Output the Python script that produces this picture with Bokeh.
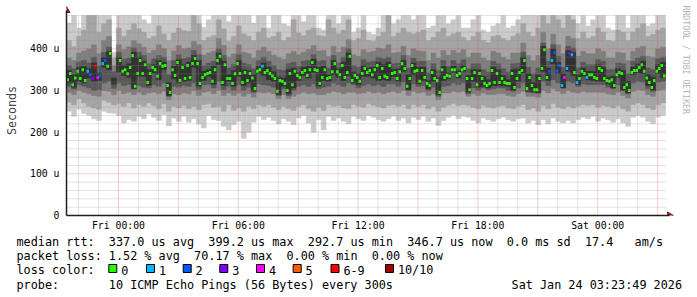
import math
from bokeh.plotting import figure
from bokeh.layouts import column
from bokeh.models import FixedTicker, Range1d, Title
from bokeh.core.properties import value
from bokeh.embed import file_html
from bokeh.resources import INLINE

nan = float("nan")

# ---------------- time frame (hours relative to Fri 00:00) ----------------
GRAPH_END_H = 27 + 23 / 60 + 49 / 3600      # Sat 03:23:49
GRAPH_SPAN_H = 30.0
SMOKE_STEP_H = 0.25
MEDIAN_STEP_H = 0.125
Y_MAX = 480                                   # microseconds

# ---------------- smoke: sorted ping rtts per 15-min column (us) ----------------
rtt_p1 = [250,238,255,245,240,232,228,250,246,245,240,222,230,226,238,232,244,236,228,242,
          215,234,226,238,224,232,220,210,240,230,228,214,205,218,226,185,200,224,238,230,
          236,228,220,232,226,218,234,240,222,200,230,205,238,228,234,226,220,238,232,228,
          240,236,230,226,232,238,228,234,222,236,230,238,226,234,216,228,236,240,232,238,
          236,228,222,234,230,226,232,236,230,226,232,234,222,228,218,230,220,234,226,222,
          228,222,230,236,232,238,226,234,230,224,232,222,214,236,240,236,226,220,236,240]
rtt_p2 = [272,265,280,270,262,258,255,276,272,265,268,262,270,258,266,262,270,264,256,268,
          250,262,258,264,256,262,254,266,268,260,262,250,266,252,258,250,262,256,266,262,
          266,260,254,262,256,252,262,266,256,250,260,252,266,262,264,258,256,266,262,260,
          268,264,262,258,264,266,262,266,256,266,262,266,256,262,250,260,264,268,264,266,
          264,260,256,264,260,258,262,264,258,256,262,266,254,258,250,264,256,268,260,256,
          262,258,262,266,264,266,260,264,262,258,264,256,250,266,270,266,258,254,266,270]
rtt_p3 = [295,290,300,296,292,288,286,300,298,290,300,292,296,290,295,290,294,296,292,298,
          278,292,290,294,292,300,288,296,298,292,300,288,294,288,294,286,292,284,296,294,
          296,292,280,290,280,286,292,296,292,294,290,290,294,298,296,292,296,296,292,294,
          298,294,296,292,296,298,294,300,288,298,294,296,288,292,278,294,294,298,296,298,
          286,292,288,294,290,290,292,292,288,286,292,298,286,286,284,300,294,304,298,292,
          300,296,294,298,296,296,296,296,292,290,296,288,282,298,302,300,290,286,300,302]
rtt_p4 = [310,303,314,310,306,300,302,318,322,305,318,312,315,304,312,308,306,314,310,318,
          286,310,308,312,310,318,302,314,315,306,322,302,310,300,314,300,308,296,316,314,
          312,308,288,304,288,300,310,314,310,316,304,308,310,318,314,310,318,314,306,312,
          316,312,314,310,316,316,310,320,300,316,310,312,300,308,286,310,312,318,314,318,
          292,306,300,306,302,304,306,306,300,298,306,318,296,296,294,322,312,326,318,306,
          322,318,310,316,314,314,314,314,308,304,314,300,292,318,322,320,304,298,320,322]
rtt_p5 = [318,308,322,318,330,322,324,356,350,315,345,336,332,304,334,334,312,342,326,350,
          288,328,318,322,324,356,310,324,334,315,362,312,322,310,334,312,318,298,340,336,
          326,322,290,310,292,306,324,336,330,344,310,324,322,338,332,324,336,318,314,334,
          334,330,324,326,324,334,322,346,302,338,316,324,304,322,290,324,328,344,330,346,
          296,322,308,310,306,312,312,312,310,300,322,342,298,296,294,346,324,364,340,306,
          346,336,314,334,326,324,322,322,316,306,332,300,294,338,342,340,312,300,340,330]
rtt_p6 = [348,338,356,358,352,366,342,380,394,330,380,360,364,392,380,370,350,362,372,368,
          320,358,374,362,368,384,372,346,350,358,390,370,338,348,372,350,348,338,358,366,
          356,345,332,330,350,354,344,356,358,375,356,358,338,372,352,368,390,344,340,360,
          354,356,368,362,368,350,352,372,338,366,356,356,324,350,332,358,342,358,348,360,
          336,350,350,334,326,356,350,336,326,350,352,380,340,320,338,406,354,400,368,340,
          396,392,338,354,346,346,362,356,332,334,352,348,322,356,364,370,338,332,362,368]
rtt_p7 = [360,352,368,372,366,380,360,392,404,345,392,375,378,402,392,384,364,376,384,380,
          338,372,386,376,380,396,386,360,366,370,400,384,354,362,386,366,362,352,372,380,
          370,360,350,348,364,368,358,370,372,386,370,372,354,384,366,380,400,360,356,374,
          368,370,380,376,380,364,366,384,354,378,370,370,342,364,348,372,358,372,364,374,
          352,364,364,350,344,370,364,352,344,364,366,392,356,340,354,414,370,410,382,356,
          406,402,354,368,362,362,374,370,350,350,366,364,340,370,378,382,354,350,376,380]
rtt_p8 = [378,372,390,395,400,410,388,420,430,360,410,398,405,420,412,404,390,396,410,400,
          372,395,408,400,402,418,410,385,390,394,425,408,380,388,410,392,388,378,396,404,
          394,385,380,375,388,394,386,392,398,408,395,396,382,406,392,404,422,386,382,398,
          392,394,402,400,410,390,392,406,384,400,395,394,372,390,378,396,385,396,390,398,
          380,390,390,378,372,394,390,380,374,390,390,414,384,372,384,440,400,435,410,388,
          430,425,382,394,388,388,400,394,378,378,392,390,372,394,402,406,382,380,400,404]
rtt_p9 = [420,405,430,445,495,495,440,460,470,378,450,430,445,460,448,440,425,430,455,436,
          420,438,450,444,442,495,460,420,428,432,470,448,418,430,455,436,430,420,440,450,
          426,430,440,420,428,470,438,432,445,450,432,430,470,450,436,445,470,420,425,445,
          420,418,430,440,495,430,438,450,440,436,440,445,420,428,440,450,430,436,440,428,
          420,430,440,420,415,430,432,425,420,430,436,460,440,430,450,495,460,495,470,450,
          495,470,425,440,425,430,450,440,420,418,445,440,420,440,450,460,430,435,445,450]
rtt_p10 = [462,495,450,495,495,495,495,495,495,392,495,495,495,495,495,470,460,495,495,480,
           495,495,495,495,495,495,495,452,470,495,495,495,465,495,495,495,480,462,495,495,
           450,495,495,460,455,495,495,465,495,495,450,445,495,495,460,495,495,440,450,495,
           440,435,450,495,495,460,470,495,495,470,495,495,450,455,495,495,460,470,495,450,
           450,470,495,445,440,455,460,495,450,455,470,495,495,495,495,495,495,495,495,495,
           495,495,460,495,455,470,495,495,450,445,495,495,450,495,495,495,455,460,495,495]

# ---------------- median rtt per 7.5-min step (us) and lost pings (of 10) ----------------
median_rtt = [326,341,314,330,346,329,350,324,346,338,329,358,331,334,365,372,358,389,nan,nan,
              nan,372,346,350,340,355,384,310,341,372,341,362,319,341,355,350,334,365,358,360,
              312,295,350,336,367,324,355,329,360,331,365,377,365,317,331,338,341,343,322,350,
              372,382,319,362,329,329,317,340,365,341,319,343,324,341,330,305,346,350,358,343,
              348,341,335,329,298,324,322,317,300,341,314,346,336,331,343,348,336,350,367,350,
              348,317,331,350,329,331,345,365,345,338,360,331,343,382,324,336,331,322,341,353,
              343,348,338,350,360,331,353,334,331,360,341,343,329,345,365,353,310,329,360,346,
              348,322,348,331,317,312,343,329,324,295,350,331,336,334,350,350,336,341,350,353,
              329,302,329,343,314,341,329,317,312,317,348,319,341,319,329,319,317,317,341,307,
              329,343,348,372,305,331,312,302,302,329,353,398,331,346,372,391,346,360,312,331,
              353,389,386,343,319,329,346,341,331,338,338,331,329,353,348,329,324,322,326,312,
              338,343,341,307,314,300,343,348,348,355,362,346,330,319,307,324,346,353,360,335]
lost_pings = [0,0,0,0,0,0,0,0,1,2,3,6,4,2,1,2,0,0,0,0,
              0,0,0,0,0,0,0,0,0,0,0,0,0,0,0,0,0,0,0,0,
              0,0,0,0,0,0,0,0,0,0,0,0,0,0,0,0,0,0,0,0,
              0,0,0,0,0,0,0,0,0,0,0,0,0,0,0,0,0,0,1,0,
              0,0,0,0,0,0,0,0,0,0,0,0,0,0,0,0,0,0,0,0,
              0,0,0,0,0,0,0,0,0,0,0,0,0,0,0,0,0,0,0,0,
              0,0,0,0,0,0,0,0,0,0,0,0,0,0,0,0,0,0,0,0,
              0,0,0,0,0,0,0,0,0,0,0,0,0,0,0,0,0,0,0,0,
              0,0,0,0,0,0,0,0,0,0,0,0,0,0,0,0,0,0,0,0,
              0,0,0,0,0,0,0,0,0,0,0,0,0,2,1,2,2,2,1,4,
              1,3,1,0,1,0,0,0,1,0,0,0,0,0,0,0,0,0,0,0,
              0,0,0,0,0,0,0,0,0,0,0,0,0,0,0,0,0,0,0,0]

# ---------------- ticks, legend ----------------
xtick_pos = [0, 6, 12, 18, 24]
xtick_labels = ["Fri 00:00", "Fri 06:00", "Fri 12:00", "Fri 18:00", "Sat 00:00"]
ytick_pos = [0, 100, 200, 300, 400]
ytick_labels = ["0", "100 u", "200 u", "300 u", "400 u"]
loss_bin_labels = ["0", "1", "2", "3", "4", "5", "6-9", "10/10"]
loss_bin_colors = ["#26ff00", "#00b8ff", "#0059ff", "#7e00ff", "#ff00ff", "#ff5e00", "#ff0000", "#a10000"]
smoke_colors = ["#cacaca", "#a4a4a4", "#7e7e7e", "#585858", "#323232"]

legend_lines = [
    "median rtt:  337.0 us avg  399.2 us max  292.7 us min  346.7 us now  0.0 ms sd  17.4   am/s",
    "packet loss: 1.52 % avg  70.17 % max  0.00 % min  0.00 % now",
    "loss color:",
    "probe:       10 ICMP Echo Pings (56 Bytes) every 300s",
]
timestamp_text = "Sat Jan 24 03:23:49 2026"
y_title = "Seconds"
watermark = "RRDTOOL / TOBI OETIKER"

# ---------------- styling constants ----------------
MONO = "DejaVu Sans Mono"
FONT_PX = 11.8
CHAR_W = 0.6021 * FONT_PX
AXIS_COLOR = "#1f1f1f"
ARROW_COLOR = "#7f1f1f"
DATA_W, DATA_H = 600, 200        # pixels of the graph area
EXTRA = 10                       # room for the axis arrows
B_LEFT, B_RIGHT, B_TOP, B_BOTTOM = 66, 21, 5, 18
MAIN_W = 697
MAIN_H = B_TOP + DATA_H + EXTRA + B_BOTTOM
LEG_H = 297 - MAIN_H

t_start = GRAPH_END_H - GRAPH_SPAN_H
px_x = GRAPH_SPAN_H / DATA_W
px_y = Y_MAX / DATA_H

p = figure(width=MAIN_W, height=MAIN_H,
           x_range=Range1d(t_start, GRAPH_END_H + EXTRA * px_x),
           y_range=Range1d(0, Y_MAX + EXTRA * px_y),
           output_backend="svg", toolbar_location=None,
           min_border_left=B_LEFT, min_border_right=B_RIGHT,
           min_border_top=B_TOP, min_border_bottom=B_BOTTOM)
p.background_fill_color = "white"
p.border_fill_color = "white"
p.outline_line_color = None
try:
    p.frame_align = False
except Exception:
    pass

# smoke bands (values above the top are clipped like rrdtool does)
smoke_left = [t_start + SMOKE_STEP_H * k for k in range(len(rtt_p1))]
smoke_right = [x + SMOKE_STEP_H for x in smoke_left]
pings = [rtt_p1, rtt_p2, rtt_p3, rtt_p4, rtt_p5, rtt_p6, rtt_p7, rtt_p8, rtt_p9, rtt_p10]
for b in range(5):
    c = smoke_colors[b]
    p.quad(left=smoke_left, right=smoke_right,
           bottom=[min(v, Y_MAX) for v in pings[b]],
           top=[min(v, Y_MAX) for v in pings[9 - b]],
           fill_color=c, line_color=c, line_width=0.5)

# median coloured by loss
def loss_bin(n):
    if n <= 5:
        return n
    if n < 10:
        return 6
    return 7

mx0, mx1, my, mc = [], [], [], []
for j, (m, l) in enumerate(zip(median_rtt, lost_pings)):
    if m != m:
        continue
    x0 = t_start + MEDIAN_STEP_H * j
    mx0.append(x0)
    mx1.append(x0 + MEDIAN_STEP_H)
    my.append(m)
    mc.append(loss_bin_colors[loss_bin(l)])
p.segment(x0=mx0, y0=my, x1=mx1, y1=my, line_color=mc, line_width=3)

# rrdtool-style dotted grid, drawn over the graph, limited to the graph area
p.grid.visible = False
vminor = [h for h in range(-2, 28) if h % 3 and t_start < h < GRAPH_END_H]
vmajor = [h for h in range(-3, 28, 3) if t_start < h < GRAPH_END_H]
hminor = [v for v in range(20, Y_MAX + 1, 20) if v % 100]
hmajor = [v for v in range(100, Y_MAX + 1, 100)]
p.segment(x0=vminor, y0=[0] * len(vminor), x1=vminor, y1=[Y_MAX] * len(vminor),
          line_color="#8f8f8f", line_alpha=0.5, line_width=1, line_dash="1 1")
p.segment(x0=[t_start] * len(hminor), y0=hminor, x1=[GRAPH_END_H] * len(hminor), y1=hminor,
          line_color="#8f8f8f", line_alpha=0.5, line_width=1, line_dash="1 1")
p.segment(x0=vmajor, y0=[0] * len(vmajor), x1=vmajor, y1=[Y_MAX] * len(vmajor),
          line_color="#de4f4f", line_alpha=0.55, line_width=1, line_dash="1 1")
p.segment(x0=[t_start] * len(hmajor), y0=hmajor, x1=[GRAPH_END_H] * len(hmajor), y1=hmajor,
          line_color="#de4f4f", line_alpha=0.55, line_width=1, line_dash="1 1")

# axes
p.xaxis.ticker = FixedTicker(ticks=xtick_pos)
p.xaxis.major_label_overrides = {k: v for k, v in zip(xtick_pos, xtick_labels)}
p.yaxis.ticker = FixedTicker(ticks=ytick_pos)
p.yaxis.major_label_overrides = {k: v for k, v in zip(ytick_pos, ytick_labels)}
p.xaxis.bounds = (t_start, GRAPH_END_H + 4 * px_x)
p.yaxis.bounds = (0, Y_MAX + 5 * px_y)
for ax in (p.xaxis, p.yaxis):
    ax.axis_line_color = AXIS_COLOR
    ax.axis_line_width = 1.5
    ax.major_tick_line_color = None
    ax.minor_tick_line_color = None
    ax.major_tick_out = 0
    ax.major_tick_in = 0
    ax.minor_tick_out = 0
    ax.minor_tick_in = 0
    ax.major_label_text_font = MONO
    ax.major_label_text_font_size = "9.8px"
    ax.major_label_text_color = "black"
p.xaxis.major_label_standoff = 4
p.yaxis.major_label_standoff = 7
p.yaxis.axis_label = y_title
p.yaxis.axis_label_text_font = MONO
p.yaxis.axis_label_text_font_size = "11.7px"
p.yaxis.axis_label_text_font_style = "normal"
p.yaxis.axis_label_standoff = 8

# axis arrow heads
p.scatter(x=[t_start], y=[Y_MAX + 5 * px_y], marker="triangle", size=7,
          fill_color=ARROW_COLOR, line_color=ARROW_COLOR)
p.scatter(x=[GRAPH_END_H + 4 * px_x], y=[0], marker="triangle", size=7, angle=-math.pi / 2,
          fill_color=ARROW_COLOR, line_color=ARROW_COLOR)

# watermark on the right edge
p.add_layout(Title(text=watermark, align="left", text_font=MONO, text_font_size="8.2px",
                   text_font_style="normal", text_color="#b4b4b4", standoff=10), "right")

# ---------------- legend panel ----------------
leg = figure(width=MAIN_W, height=LEG_H,
             x_range=Range1d(0, MAIN_W), y_range=Range1d(LEG_H, 0),
             output_backend="svg", toolbar_location=None,
             min_border_left=0, min_border_right=0, min_border_top=0, min_border_bottom=0)
leg.axis.visible = False
leg.grid.visible = False
leg.outline_line_color = None
leg.background_fill_color = "white"
leg.border_fill_color = "white"
try:
    leg.frame_align = False
except Exception:
    pass

row_y = [241 - MAIN_H, 255.7 - MAIN_H, 269.7 - MAIN_H, 284.3 - MAIN_H]
# split each monospace line on runs of spaces so SVG keeps the alignment
tx, ty, tt = [], [], []
for r, line in enumerate(legend_lines):
    i = 0
    while i < len(line):
        if line[i] == " ":
            i += 1
            continue
        jx = line.find("  ", i)
        if jx < 0:
            jx = len(line)
        tx.append(16 + i * CHAR_W)
        ty.append(row_y[r])
        tt.append(line[i:jx])
        i = jx
leg.text(x=tx, y=ty, text=tt, text_font=value(MONO), text_font_size=f"{FONT_PX}px",
         text_baseline="middle", text_color="black")
leg.text(x=[681.5], y=[row_y[3]], text=[timestamp_text], text_font=value(MONO),
         text_font_size=f"{FONT_PX}px", text_baseline="middle", text_align="right",
         text_color="black")

box_x = [108.3, 146.0, 182.7, 219.3, 256.0, 292.7, 330.5, 385.0]
box_top = 264 - MAIN_H
leg.quad(left=box_x, right=[x + 8 for x in box_x], top=[box_top] * 8, bottom=[box_top + 8] * 8,
         fill_color=loss_bin_colors, line_color="black", line_width=1)
leg.text(x=[x + 12.4 for x in box_x], y=[row_y[2]] * 8, text=loss_bin_labels,
         text_font=value(MONO), text_font_size=f"{FONT_PX}px", text_baseline="middle",
         text_color="black")

layout = column(p, leg, spacing=0)
open("out.html", "w").write(file_html(layout, INLINE))
